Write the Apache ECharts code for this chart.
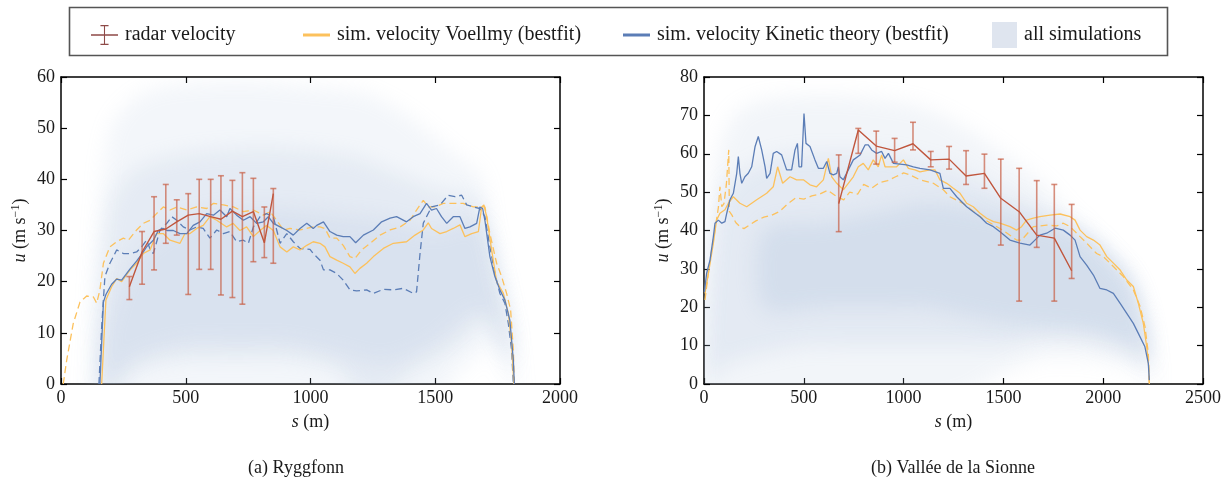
<!DOCTYPE html>
<html><head><meta charset="utf-8">
<script src="https://cdn.jsdelivr.net/npm/echarts@6/dist/echarts.min.js"></script>
<style>html,body{margin:0;padding:0;background:#fff}#c{width:1225px;height:479px}</style>
</head><body><div id="c"></div>
<script>
// ---------- DATA ----------
const captions = ['(a) Ryggfonn', '(b) Vallée de la Sionne'];
const legendNames = ['radar velocity', 'sim. velocity Voellmy (bestfit)', 'sim. velocity Kinetic theory (bestfit)', 'all simulations'];

// Ryggfonn (left) : [s, u]
const voellmyL = [[163,0],[180,16.4],[203,19],[223,20.6],[243,20],[277,22.3],[303,23.6],[330,25.5],[357,26.2],[383,29.4],[410,29.4],[437,28.1],[477,27.5],[497,29.4],[517,29.4],[544,30.4],[570,31],[597,32.7],[624,32],[664,30.7],[690,31.4],[717,30],[744,30.7],[771,28.8],[798,30],[824,31],[851,30],[878,26.8],[905,25.8],[931,26.8],[958,26.2],[985,27.1],[1011,27.8],[1038,27.5],[1058,26.8],[1078,24.9],[1105,24.2],[1131,23.6],[1158,22.9],[1178,21.6],[1198,22.6],[1225,23.6],[1252,24.9],[1292,26.5],[1332,27.5],[1385,27.8],[1419,29.1],[1452,30.1],[1472,31.5],[1485,30.4],[1519,29.4],[1546,29.8],[1572,30.4],[1599,31.1],[1619,28.8],[1646,29.4],[1673,29.8],[1686,34.6],[1695,35],[1706,32.7],[1726,26.2],[1746,20],[1773,17.7],[1793,13.8],[1806,7.9],[1815,0]];
const kineticL = [[156,0],[170,16],[180,17.5],[203,19.5],[223,20.5],[243,20.3],[277,22.5],[303,24],[330,25.8],[343,26.8],[370,28.1],[390,30],[410,30.4],[425,30],[450,30],[477,29.4],[504,29.4],[530,31],[557,31.7],[584,33.3],[611,33],[637,34],[664,32.7],[677,34.3],[704,33],[731,32],[758,32.7],[784,31.4],[811,31.7],[831,32.7],[851,31.4],[878,30.7],[905,30],[931,29.1],[958,30.4],[985,31.4],[1011,30.4],[1025,31],[1052,31.7],[1078,29.8],[1105,29.1],[1131,28.8],[1158,28.8],[1181,27.6],[1212,29.1],[1252,30.1],[1285,31.7],[1319,32.4],[1345,32.7],[1385,31.7],[1412,32.7],[1439,33.3],[1465,35.3],[1485,34],[1505,34.3],[1525,32.7],[1546,31.4],[1572,32.7],[1599,32.7],[1619,30.4],[1639,30.7],[1666,31.4],[1679,34.6],[1690,34.3],[1699,32],[1719,24.9],[1739,21],[1759,18.4],[1779,16.4],[1799,12.5],[1813,4.7],[1817,0]];
const voellmyDashL = [[9,0],[23,4.7],[49,11.8],[76,16],[103,17.2],[130,17],[143,15.8],[156,18.4],[170,23.6],[196,26.8],[223,27.8],[250,28.5],[270,28.1],[303,30.1],[330,31.4],[357,32],[383,33.3],[410,34.6],[437,34],[464,34.6],[504,34],[544,34.6],[584,34.3],[611,35.3],[651,35],[691,34.6],[731,33.7],[771,34],[811,33],[838,33.7],[864,32],[891,30.1],[918,30.4],[958,30.1],[1011,30.7],[1038,30.7],[1058,30.4],[1078,28.5],[1105,28.5],[1131,27.1],[1158,24.9],[1178,24.5],[1205,26.2],[1239,27.5],[1279,29.1],[1319,30.1],[1359,30.7],[1399,32],[1425,34],[1452,35.9],[1472,34.6],[1499,34.6],[1532,35.3],[1572,35.3],[1612,35.3],[1653,34.6],[1679,34.6],[1699,34.6],[1719,29.4],[1746,23.6],[1766,21],[1786,17.7],[1802,14.5],[1813,6.6],[1817,0]];
const kineticDashL = [[152,0],[163,11.2],[176,21],[196,23.6],[210,24.9],[223,26.2],[250,25.5],[277,25.5],[303,25.8],[323,26.8],[343,28.1],[360,26],[370,25.5],[397,30.1],[424,31.4],[444,32.7],[464,32],[490,30.7],[517,30.1],[544,30.7],[570,30.4],[597,28.5],[624,30.1],[651,29.4],[677,29.8],[704,27.8],[731,28.1],[751,27.5],[771,30.7],[798,32.7],[824,33.3],[851,32.7],[878,27.5],[905,29.4],[931,27.8],[958,26.5],[998,26.3],[1011,25.5],[1038,24.2],[1052,22.3],[1078,22.3],[1105,21.6],[1131,20.3],[1158,18.4],[1185,18.2],[1225,18.4],[1252,17.7],[1292,18.5],[1332,18.4],[1372,18.7],[1412,17.7],[1425,18],[1439,25.5],[1452,31.4],[1465,32.7],[1485,34.6],[1519,35],[1552,36.9],[1579,36.6],[1606,36.9],[1626,35],[1653,34.6],[1679,34.3],[1699,32.7],[1719,26.8],[1739,21.6],[1759,17.7],[1779,15.8],[1793,11.8],[1806,6.6],[1813,0]];
const radarLs  = [274,325,373,420,464,510,554,600,641,687,727,771,815,851];
const radarLu  = [19,25.8,29.8,30.3,31.7,33,33.3,32.7,32.2,33.8,32.7,33.7,27.6,37.2];
const radarLlo = [16.5,19.5,22.3,27.5,29.1,17.5,22.4,22.4,17.4,16.9,15.6,23.9,24.7,23.6];
const radarLhi = [21,29.8,36.6,39,36,37.2,40,40,40.7,39.8,41.3,40.2,34.6,38.2];
// all simulations envelope bands (left)
const cloudL = [
  {s:[110,150,200,300,400,600,800,1000,1200,1300,1400,1500,1600,1680,1720,1760,1800,1830],
   lo:[-5,-5,-5,-5,-5,-5,-5,-5,-5,-5,-5,-5,3,6,8,5,0,-5],
   hi:[0,30,50,56,58,59,59,58,57,55,52,48,44,41,30,20,12,0]},
  {s:[150,200,300,500,700,900,1100,1200,1300,1400,1500,1600,1680,1720,1760,1800,1815],
   lo:[-3,-3,3,5,5,5,3,-3,-3,2,5,8,12,12,8,3,0],
   hi:[15,35,42,45,46,46,45,44,42,40,38,37,36,30,22,12,0]},
  {s:[180,300,500,700,900,1100,1300,1500,1650,1700,1750,1800],
   lo:[0,5,8,8,8,6,4,8,14,14,10,5],
   hi:[10,25,32,34,34,33,32,30,32,30,20,10]}
];
const cloudAlphaL = [0.15, 0.2, 0.22];

// Vallée de la Sionne (right)
const kineticR = [[2,24],[13,28.8],[30,32.3],[47,38.4],[55,41.9],[72,42.7],[89,41.9],[105,42.3],[114,44.5],[130,48],[147,49.7],[164,54.9],[172,59.3],[180,54.9],[189,52.3],[205,54],[222,54.9],[239,56.6],[256,61.9],[272,64.5],[289,61],[306,56.6],[314,53.6],[331,54.9],[347,60.1],[364,60.6],[389,59.7],[414,55.8],[439,55.8],[456,61],[468,62.7],[476,56.6],[489,56.6],[501,70.5],[511,62.7],[531,61.9],[556,58.4],[573,56.2],[598,56.2],[615,58],[631,54.9],[648,54.5],[665,54.9],[673,56.6],[681,54],[698,53.2],[723,55.8],[748,58.4],[782,59.7],[807,62.3],[823,62.3],[840,61],[865,60.1],[890,60.6],[907,58.8],[924,60.1],[949,57.5],[982,57.3],[1015,57.1],[1049,56.6],[1082,56.2],[1132,55.8],[1182,54.9],[1199,51],[1232,51],[1266,48.8],[1316,46.2],[1349,44.9],[1383,43.6],[1416,41.9],[1450,41],[1483,39.7],[1533,37.5],[1583,36.7],[1633,36.2],[1658,37.5],[1683,38.8],[1717,39.3],[1759,40.6],[1800,40.1],[1834,38.8],[1859,37.5],[1884,33.2],[1917,31],[1951,28.4],[1984,24.9],[2018,24.5],[2051,23.6],[2085,21],[2118,18.4],[2151,15.8],[2176,13.2],[2209,9.7],[2226,5.4],[2231,1]];
const voellmyR = [[5,23.6],[22,28.8],[47,36.7],[63,42.7],[80,44.5],[105,45.4],[122,47.1],[147,48.8],[180,47.1],[214,46.2],[264,48],[314,49.7],[347,51.4],[369,56.6],[394,52.3],[431,54],[464,53.2],[498,53.2],[531,51.9],[564,51.4],[598,53.2],[623,58.8],[640,54],[665,52.3],[698,50.6],[723,52.3],[748,54],[773,56.6],[798,57.5],[823,55.8],[848,58.4],[873,56.6],[890,59.7],[907,56.6],[932,56.6],[965,56.6],[999,58.4],[1024,56.2],[1057,55.8],[1082,55.3],[1132,55.8],[1157,55.8],[1182,53.2],[1216,52.3],[1249,51],[1283,49.7],[1316,47.1],[1349,46.2],[1383,44.5],[1416,43.2],[1450,42.3],[1483,41.9],[1533,41],[1566,40.1],[1591,41],[1616,42.7],[1650,43.2],[1683,43.6],[1734,44],[1784,44.3],[1834,43.6],[1859,42.7],[1884,40.1],[1917,38.4],[1951,37.5],[1984,36.2],[2018,33.2],[2051,31.5],[2085,29.7],[2118,27.1],[2151,25.4],[2176,21],[2201,15.8],[2218,9.7],[2228,4.5],[2231,0]];
const voellmyDashR = [[5,21.9],[30,32.3],[55,40.1],[72,46],[80,51.4],[89,46.2],[100,47],[112,52],[124,61],[127,45],[140,44],[160,42],[180,41],[200,40.5],[230,41.5],[260,42.5],[300,43.5],[340,44],[380,45],[420,47],[460,48.5],[500,48.2],[540,49],[580,49.5],[620,50.5],[660,49],[700,48],[730,50],[770,49.5],[800,52],[840,51],[880,52.5],[920,53],[960,54],[1000,55],[1032,54.5],[1082,53.2],[1149,52.3],[1199,50.6],[1232,48.8],[1300,47],[1400,43],[1500,40],[1566,37.5],[1591,37.5],[1650,41],[1717,41.4],[1768,41.2],[1800,41.9],[1834,41],[1884,38.4],[1917,36.7],[1967,34],[2001,33.2],[2051,30.6],[2101,28],[2151,24.5],[2185,20.2],[2209,15],[2226,8],[2231,0]];
const radarRs  = [675,773,863,955,1047,1136,1228,1313,1405,1487,1579,1667,1755,1842];
const radarRu  = [47,66.2,62,60.8,62.6,58.4,58.6,54.2,54.9,48.4,44.9,38.8,38,29.5];
const radarRlo = [39.7,60.1,57.3,57.8,61,56.6,56,52,51,36.2,21.6,35.6,21.6,27.5];
const radarRhi = [59.7,66.6,65.9,64,68.2,60.6,61.9,60.8,59.9,58.6,56.2,53,52,46.8];
const cloudR = [
  {s:[-30,50,150,300,500,700,900,1100,1300,1500,1700,1800,1900,2000,2100,2150,2200,2240,2252],
   lo:[-5,-5,-5,-5,-5,-5,-5,-5,-3,3,7,7,7,6,5,4,3,-3,-5],
   hi:[0,55,70,74,75,75,74,72,67,60,52,46,41,36,30,26,18,8,0]},
  {s:[20,100,300,500,700,900,1100,1300,1500,1700,1900,2050,2150,2220,2240],
   lo:[0,5,8,10,10,10,10,10,10,12,12,10,8,5,2],
   hi:[20,50,58,60,60,60,58,55,50,45,40,33,27,15,3]},
  {s:[300,600,900,1100,1300,1500,1700,1900,2050,2150,2220],
   lo:[20,20,20,20,18,16,15,14,12,10,6],
   hi:[40,42,45,47,46,44,42,38,32,25,12]}
];
const cloudAlphaR = [0.17, 0.22, 0.3];

// ---------- STYLE ----------
const FONT = "'Liberation Serif','DejaVu Serif',serif";
const C_RADAR = '#c0563d', C_RADAR_BAR = 'rgba(200,96,70,0.7)';
const C_VOE = '#fcc15c', C_KIN = '#5b7db6';
const OFF = 5000;

const chart = echarts.init(document.getElementById('c'), null, {renderer: 'canvas'});
const plain = v => String(v);

function axisCommon(extra) {
  return Object.assign({
    axisLine: {show: true, onZero: false, lineStyle: {color: '#000', width: 1.5}},
    axisTick: {show: true, inside: true, length: 6, lineStyle: {color: '#000', width: 1.2}},
    splitLine: {show: false}
  }, extra);
}
function xAxes(grid, max) {
  return [
    axisCommon({type: 'value', gridIndex: grid, min: 0, max: max, interval: 500, position: 'bottom',
      axisLabel: {fontFamily: FONT, fontSize: 18, color: '#1a1a1a', margin: 5, formatter: plain},
      name: '{i|s} (m)', nameLocation: 'middle', nameGap: 29,
      nameTextStyle: {fontFamily: FONT, fontSize: 18, color: '#1a1a1a', rich: {i: {fontStyle: 'italic', fontFamily: FONT, fontSize: 18}}}}),
    axisCommon({type: 'value', gridIndex: grid, min: 0, max: max, interval: 500, position: 'top', axisLabel: {show: false}})
  ];
}
function yAxes(grid, max) {
  return [
    axisCommon({type: 'value', gridIndex: grid, min: 0, max: max, interval: 10, position: 'left',
      axisLabel: {fontFamily: FONT, fontSize: 18, color: '#1a1a1a', margin: 6, formatter: plain},
      name: '{i|u}{n| (m s}{s|−1}{n|)}', nameLocation: 'middle', nameGap: 30, nameRotate: 90,
      nameTextStyle: {fontFamily: FONT, fontSize: 18, color: '#1a1a1a',
        rich: {i: {fontStyle: 'italic', fontFamily: FONT, fontSize: 18},
               n: {fontFamily: FONT, fontSize: 18},
               s: {fontFamily: FONT, fontSize: 12, verticalAlign: 'bottom', padding: [0, 0, 9, 0]}}}}),
    axisCommon({type: 'value', gridIndex: grid, min: 0, max: max, interval: 10, position: 'right', axisLabel: {show: false}})
  ];
}

function cloudSeries(bands, alphas, xi, yi) {
  return bands.map((b, k) => ({
    type: 'custom', name: 'all simulations', xAxisIndex: xi, yAxisIndex: yi, z: 1, silent: true, clip: true,
    itemStyle: {color: '#dfe5ef'},
    data: b.s.map((s, i) => [s, b.lo[i], b.hi[i]]),
    encode: {x: 0, y: [1, 2]},
    renderItem: function (params, api) {
      if (params.dataIndex !== 0) return null;
      const pts = [];
      for (let i = 0; i < b.s.length; i++) pts.push(api.coord([b.s[i], b.hi[i]]));
      for (let i = b.s.length - 1; i >= 0; i--) pts.push(api.coord([b.s[i], b.lo[i]]));
      // the polygon itself is placed off-canvas; only its blurred shadow lands on the plot
      return {type: 'polygon', x: -OFF, shape: {points: pts, smooth: 0.3},
        style: {fill: '#000', shadowBlur: 20, shadowOffsetX: OFF, shadowOffsetY: 0,
                shadowColor: 'rgba(176,196,222,' + alphas[k] + ')'}};
    }
  }));
}
function lineSeries(name, data, color, dashed, xi, yi) {
  return {type: 'line', name: name, xAxisIndex: xi, yAxisIndex: yi, data: data, showSymbol: false, z: 2,
    color: color, lineStyle: {color: color, width: 1.3, type: dashed ? [7, 4] : 'solid'}, silent: true};
}
function errorSeries(s, lo, hi, xi, yi) {
  return {type: 'custom', name: 'radar error', xAxisIndex: xi, yAxisIndex: yi, z: 3, silent: true,
    data: s.map((v, i) => [v, lo[i], hi[i]]),
    encode: {x: 0, y: [1, 2]},
    renderItem: function (params, api) {
      const a = api.coord([api.value(0), api.value(1)]);
      const b = api.coord([api.value(0), api.value(2)]);
      const st = {stroke: C_RADAR_BAR, lineWidth: 1.6};
      const w = 3;
      return {type: 'group', children: [
        {type: 'line', shape: {x1: a[0], y1: a[1], x2: b[0], y2: b[1]}, style: st},
        {type: 'line', shape: {x1: a[0] - w, y1: a[1], x2: a[0] + w, y2: a[1]}, style: st},
        {type: 'line', shape: {x1: b[0] - w, y1: b[1], x2: b[0] + w, y2: b[1]}, style: st}
      ]};
    }};
}
function radarSeries(s, u, xi, yi) {
  return {type: 'line', name: 'radar velocity', xAxisIndex: xi, yAxisIndex: yi, z: 4, showSymbol: false, silent: true,
    color: C_RADAR, lineStyle: {color: C_RADAR, width: 1.4},
    data: s.map((v, i) => [v, u[i]])};
}

const legendText = {fontFamily: FONT, fontSize: 20, color: '#1a1a1a', lineHeight: 22, padding: [0, 0, 0, 2]};
function legend(name, left, top, w, h, icon, color) {
  return {show: true, left: left, top: top, itemWidth: w, itemHeight: h, selectedMode: false,
    data: [{name: name, icon: icon, itemStyle: {color: color, borderWidth: 0}}],
    textStyle: legendText};
}

const option = {
  animation: false,
  backgroundColor: '#fff',
  grid: [
    {left: 61, top: 77, width: 499, height: 307, containLabel: false},
    {left: 704, top: 77, width: 499, height: 307, containLabel: false}
  ],
  xAxis: [].concat(xAxes(0, 2000), xAxes(1, 2500)),
  yAxis: [].concat(yAxes(0, 60), yAxes(1, 80)),
  legend: [
    legend(legendNames[0], 86, 19, 27, 22, 'path://M0,10.2H30V11.8H0Z M14.4,0H15.6V22H14.4Z M10.5,0H19.5V1.2H10.5Z M10.5,20.8H19.5V22H10.5Z', '#8e4a47'),
    legend(legendNames[1], 298, 19, 27, 3, 'rect', C_VOE),
    legend(legendNames[2], 618, 19, 27, 3, 'rect', C_KIN),
    legend(legendNames[3], 987, 17, 25, 26, 'rect', '#dfe5ef')
  ],
  graphic: [
    {type: 'rect', left: 67, top: 5, shape: {x: 0, y: 0, width: 1098, height: 48}, style: {fill: 'none', stroke: '#555', lineWidth: 1.6}, z: -1, silent: true},
    {type: 'text', x: 296, y: 468, style: {text: captions[0], font: '18px ' + FONT, fill: '#1a1a1a', textAlign: 'center', textVerticalAlign: 'middle'}},
    {type: 'text', x: 953, y: 468, style: {text: captions[1], font: '18px ' + FONT, fill: '#1a1a1a', textAlign: 'center', textVerticalAlign: 'middle'}}
  ],
  series: [].concat(
    cloudSeries(cloudL, cloudAlphaL, 0, 0),
    [lineSeries('Voellmy alt', voellmyDashL, C_VOE, true, 0, 0),
     lineSeries('Kinetic alt', kineticDashL, C_KIN, true, 0, 0),
     lineSeries(legendNames[1], voellmyL, C_VOE, false, 0, 0),
     lineSeries(legendNames[2], kineticL, C_KIN, false, 0, 0),
     errorSeries(radarLs, radarLlo, radarLhi, 0, 0),
     radarSeries(radarLs, radarLu, 0, 0)],
    cloudSeries(cloudR, cloudAlphaR, 2, 2),
    [lineSeries('Voellmy alt', voellmyDashR, C_VOE, true, 2, 2),
     lineSeries(legendNames[1], voellmyR, C_VOE, false, 2, 2),
     lineSeries(legendNames[2], kineticR, C_KIN, false, 2, 2),
     errorSeries(radarRs, radarRlo, radarRhi, 2, 2),
     radarSeries(radarRs, radarRu, 2, 2)]
  )
};
chart.setOption(option);
</script>
</body></html>
